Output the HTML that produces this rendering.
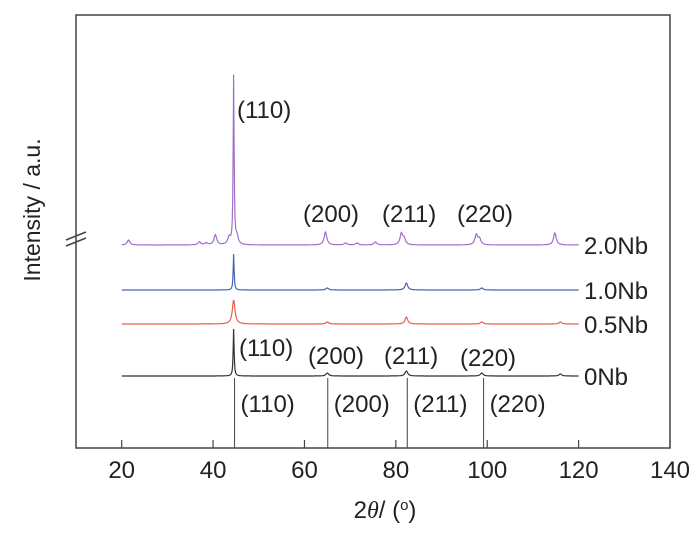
<!DOCTYPE html>
<html><head><meta charset="utf-8"><style>
body{margin:0;background:#fff}
svg{display:block;font-family:"Liberation Sans",Arial,sans-serif}
</style></head><body>
<svg id="chart" width="700" height="533" viewBox="0 0 700 533">
<rect x="0" y="0" width="700" height="533" fill="#fff"/>
<g id="plot"></g>
<g id="axes"></g>
</svg>
<script>
const xTicks=[20,40,60,80,100,120,140];
const seriesNames=["0Nb","0.5Nb","1.0Nb","2.0Nb"];
const seriesColors=["#333333","#e8604c","#4a63b0","#a070c8"];
const seriesBase=[376,324,290,245];
const peakPos0=[44.5,65,82.3,98.8,116];
const peakH0=[47,3,5,3,2];
const peakPos05=[44.5,65,82.3,98.8,116];
const peakH05=[24,2,7,2,2];
const peakPos10=[44.5,65,82.3,98.8];
const peakH10=[36,2,7,2];
const peakPos20=[21.5,37,38.5,40.5,43.5,44.5,45.2,64.6,69,71.5,75.5,81.2,81.8,97.6,98.3,114.8];
const peakH20=[5,3,2,10,7,168,8,13,2,2,3,11,6,10,6,12];
const refPos=[44.7,65.1,82.5,99.2];
const refLabels=["(110)","(200)","(211)","(220)"];
const X=v=>76+(v-10)*(670-76)/130;
const ns="http://www.w3.org/2000/svg";
const FS=24;
const plot=document.getElementById('plot'),axes=document.getElementById('axes');
function mk(tag,attrs,parent,text){const e=document.createElementNS(ns,tag);for(const k in attrs)e.setAttribute(k,attrs[k]);if(text!==undefined)e.textContent=text;parent.appendChild(e);return e;}
const peaks=[[peakPos0,peakH0],[peakPos05,peakH05],[peakPos10,peakH10],[peakPos20,peakH20]];
peaks.forEach((p,i)=>{
  let d="";
  for(let t=20;t<=120;t+=0.1){
    let y=0;
    p[0].forEach((c,j)=>{const w=(p[1][j]>30)?0.12:0.35;y+=p[1][j]/(1+((t-c)/w)**2);});
    d+=(d?"L":"M")+X(t).toFixed(1)+","+(seriesBase[i]-y).toFixed(1);
  }
  const path=mk('path',{d:d,fill:'none',stroke:seriesColors[i],'stroke-width':1.2},plot);
  
  
  const lab=mk('text',{x:584,y:seriesBase[i]+9,'font-size':FS,fill:'#222'},plot,seriesNames[i]);
  
  
});
refPos.forEach((r,i)=>{
  const l=mk('line',{x1:X(r),x2:X(r),y1:448,y2:378,stroke:'#444','stroke-width':1},plot);
  
  
  const t=mk('text',{x:X(r)+6,y:412,'font-size':FS,fill:'#222'},plot,refLabels[i]);
  
  
});
const annots=[[237,118,"(110)"],[303,222,"(200)"],[382,222,"(211)"],[457,222,"(220)"],[239,356,"(110)"],[308,364,"(200)"],[384,364,"(211)"],[460,366,"(220)"]];
annots.forEach((a,i)=>{
  const t=mk('text',{x:a[0],y:a[1],'font-size':FS,fill:'#222'},plot,a[2]);
  
  
});
const f=mk('rect',{x:76,y:15,width:594,height:433,fill:'none',stroke:'#444','stroke-width':1.5},axes);


xTicks.forEach(v=>{
  const tk=mk('line',{x1:X(v),x2:X(v),y1:448,y2:440,stroke:'#444','stroke-width':1.2},axes);
  
  
  const t=mk('text',{x:X(v),y:478,'font-size':FS,'text-anchor':'middle',fill:'#222'},axes,v);
  
  
});
const br=mk('path',{d:'M66,240 L86,232 M66,246 L86,238',stroke:'#444','stroke-width':1.5,fill:'none'},axes);


const yt=mk('text',{x:0,y:0,'font-size':23,'text-anchor':'middle',fill:'#222',transform:'translate(40,210) rotate(-90)'},axes,'Intensity / a.u.');


const xt=mk('text',{x:385,y:518,'font-size':FS,'text-anchor':'middle',fill:'#222'},axes);


xt.innerHTML='2<tspan font-family="Liberation Serif" font-style="italic">θ</tspan>/ (<tspan baseline-shift="super" font-size="15">o</tspan>)';
</script>
</body></html>
